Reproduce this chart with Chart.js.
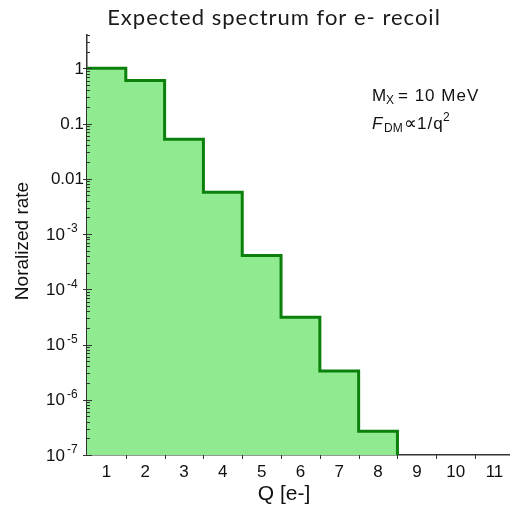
<!DOCTYPE html>
<html>
<head>
<meta charset="utf-8">
<title>Expected spectrum for e- recoil</title>
<script src="https://cdn.jsdelivr.net/npm/chart.js@4"></script>
<style>
    html, body { margin: 0; padding: 0; background: #ffffff; }
    #wrap { width: 510px; height: 507px; }
</style>
</head>
<body>
<div id="wrap"><canvas id="spectrumChart" width="510" height="507"></canvas></div>
<script>
// number of electrons per event and the normalized rate for each bin
const charges = [1, 2, 3, 4, 5, 6, 7, 8];
const rates = [1.0, 0.6, 0.052, 0.0057, 4.1e-4, 3.1e-5, 3.3e-6, 2.7e-7];

// axis ticks
const xTickLabels = ['1', '2', '3', '4', '5', '6', '7', '8', '9', '10', '11'];
const yDecades = [1, 0.1, 0.01, 1e-3, 1e-4, 1e-5, 1e-6, 1e-7];
const yDecadeLabels = ['1', '0.1', '0.01', '10|-3', '10|-4', '10|-5', '10|-6', '10|-7'];

const yMin = 1e-7;
const yMax = 4;
const xMin = 0.5;
const xMax = 11.4;

const axisColor = '#333333';
const labelFont = '"Liberation Sans", Arial, sans-serif';

// step outline: each bin spans q-0.5 .. q+0.5, closed down to the axis at the end
const stepPoints = charges.map((q, i) => ({ x: q - 0.5, y: rates[i] }));
const lastQ = charges[charges.length - 1];
stepPoints.push({ x: lastQ + 0.5, y: rates[rates.length - 1] });
stepPoints.push({ x: lastQ + 0.5, y: yMin });

const axisDecorations = {
    id: 'axisDecorations',
    afterDraw(chart) {
        const ctx = chart.ctx;
        const x = chart.scales.x;
        const y = chart.scales.y;
        const area = chart.chartArea;

        ctx.save();
        ctx.strokeStyle = axisColor;
        ctx.fillStyle = '#111111';
        ctx.lineWidth = 1;

        // y ticks: minor ones inside, decades on both sides
        for (let e = -7; e <= 0; e++) {
            for (let m = 1; m <= 9; m++) {
                const v = m * Math.pow(10, e);
                if (v < yMin || v > yMax) continue;
                const py = Math.round(y.getPixelForValue(v)) + 0.5;
                ctx.beginPath();
                if (m === 1) {
                    ctx.moveTo(area.left - 4, py);
                    ctx.lineTo(area.left + 5, py);
                } else {
                    ctx.moveTo(area.left, py);
                    ctx.lineTo(area.left + 3, py);
                }
                ctx.stroke();
            }
        }
        [2, 3, 4].forEach(v => {
            const py = Math.round(y.getPixelForValue(v)) + 0.5;
            ctx.beginPath();
            ctx.moveTo(area.left, py);
            ctx.lineTo(area.left + 3, py);
            ctx.stroke();
        });

        // x ticks sit on the bin edges
        for (let i = 1; i < xTickLabels.length; i++) {
            const px = Math.round(x.getPixelForValue(i + 0.5)) + 0.5;
            ctx.beginPath();
            ctx.moveTo(px, area.bottom);
            ctx.lineTo(px, area.bottom + 4);
            ctx.stroke();
        }

        // x tick labels
        ctx.font = '17px ' + labelFont;
        ctx.textAlign = 'center';
        ctx.textBaseline = 'middle';
        xTickLabels.forEach((lab, i) => {
            ctx.fillText(lab, x.getPixelForValue(i + 1), area.bottom + 17);
        });

        // y tick labels, powers written with a raised exponent
        yDecades.forEach((v, i) => {
            const py = y.getPixelForValue(v);
            const lab = yDecadeLabels[i];
            if (lab.includes('|')) {
                const [base, exp] = lab.split('|');
                ctx.font = '17px ' + labelFont;
                ctx.textAlign = 'right';
                ctx.fillText(base, 65, py + 1);
                ctx.font = '12px ' + labelFont;
                ctx.textAlign = 'left';
                ctx.fillText(exp, 67, py - 5);
            } else {
                ctx.font = '17px ' + labelFont;
                ctx.textAlign = 'right';
                ctx.fillText(lab, 84, py + 1);
            }
        });

        // axis titles
        ctx.font = '21px ' + labelFont;
        ctx.textAlign = 'center';
        ctx.fillText('Q [e-]', 284, 494);

        ctx.save();
        ctx.translate(23, 241);
        ctx.rotate(-Math.PI / 2);
        ctx.font = '19px ' + labelFont;
        ctx.fillText('Noralized rate', 0, 0);
        ctx.restore();

        // chart title
        ctx.textBaseline = 'alphabetic';
        ctx.font = '22px Lato, "Open Sans", sans-serif';
        ctx.letterSpacing = '1px';
        ctx.textAlign = 'center';
        ctx.fillStyle = '#1a1a1a';
        ctx.fillText('Expected spectrum for e- recoil', 274, 25);

        // model annotation
        ctx.fillStyle = '#111111';
        ctx.textAlign = 'left';
        ctx.letterSpacing = '0px';
        ctx.font = '17px ' + labelFont;
        ctx.fillText('M', 372, 101);
        ctx.font = '12px ' + labelFont;
        ctx.fillText('X', 386, 104);
        ctx.font = '17px ' + labelFont;
        ctx.letterSpacing = '1px';
        ctx.fillText('= 10 MeV', 398, 101);

        ctx.letterSpacing = '0px';
        ctx.font = 'italic 17px ' + labelFont;
        ctx.fillText('F', 372, 129);
        ctx.font = '12px ' + labelFont;
        ctx.fillText('DM', 384, 132);
        ctx.font = '18px ' + labelFont;
        ctx.fillText('\u221D', 404, 129);
        ctx.font = '17px ' + labelFont;
        ctx.letterSpacing = '1px';
        ctx.fillText('1/q', 417, 129);
        ctx.letterSpacing = '0px';
        ctx.font = '12px ' + labelFont;
        ctx.fillText('2', 443, 121);

        ctx.restore();
    }
};

new Chart(document.getElementById('spectrumChart').getContext('2d'), {
    type: 'line',
    data: {
        datasets: [{
            label: 'Expected rate',
            data: stepPoints,
            stepped: 'before',
            fill: 'start',
            backgroundColor: '#90ea90',
            borderColor: '#0b800b',
            borderWidth: 3,
            borderJoinStyle: 'miter',
            pointRadius: 0,
            pointHoverRadius: 0
        }]
    },
    options: {
        responsive: false,
        animation: false,
        layout: {
            padding: { left: 79, right: 0, top: 35, bottom: 44 }
        },
        scales: {
            x: {
                type: 'linear',
                min: xMin,
                max: xMax,
                grid: { display: false },
                ticks: { display: false },
                border: { display: true, color: axisColor, width: 1.5 }
            },
            y: {
                type: 'logarithmic',
                min: yMin,
                max: yMax,
                grid: { display: false },
                ticks: { display: false },
                border: { display: true, color: axisColor, width: 1.5 }
            }
        },
        plugins: {
            legend: { display: false },
            title: { display: false },
            tooltip: { enabled: false }
        }
    },
    plugins: [axisDecorations]
});
</script>
</body>
</html>
